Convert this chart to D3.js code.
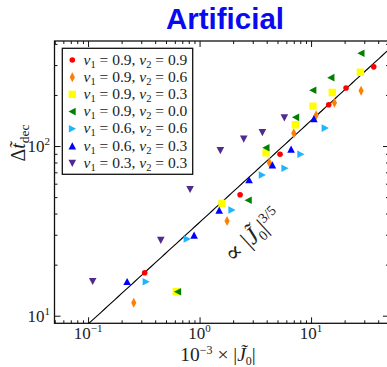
<!DOCTYPE html>
<html><head><meta charset="utf-8">
<script src="https://cdn.jsdelivr.net/npm/d3@7"></script>
<style>body{margin:0;background:#fff}</style>
</head><body>
<script>
// ---------- data ----------
const seriesV1 = ["0.9","0.9","0.9","0.9","0.6","0.6","0.3"];
const seriesV2 = ["0.9","0.6","0.3","0.0","0.6","0.3","0.3"];
const seriesColors = ["#ff0000","#ff8000","#ffff00","#008000","#1eb4ff","#0000ff","#512a8f"];
const seriesShapes = ["circle","diamond","square","left","right","up","down"];

const redJ    = [36.5, 20.6, 14.4, 5.27, 2.31, 0.322];
const redT    = [293, 220, 175, 89.4, 51.6, 17.9];
const orangeJ = [28.1, 16.2, 11.1, 7.0, 4.23, 1.765, 0.257];
const orangeT = [212, 180, 152, 118.8, 79.7, 36.1, 11.93];
const yellowJ = [27.7, 15.5, 10.4, 7.23, 3.95, 1.59, 0.619];
const yellowT = [272, 207, 172, 133.5, 91.3, 45.9, 13.85];
const greenJ  = [28.1, 15.1, 10.4, 7.29, 3.95, 2.74, 0.637];
const greenT  = [352, 253, 213, 147.6, 97.7, 47.9, 13.85];
const cyanJ   = [13.35, 8.08, 5.81, 3.64, 1.945, 0.772, 0.331];
const cyanT   = [127.6, 89.4, 73.9, 67.5, 42.0, 28.3, 15.86];
const blueJ   = [10.6, 6.62, 4.50, 2.78, 1.50, 0.893, 0.224];
const blueT   = [144.8, 95.6, 77.3, 63.1, 41.8, 29.8, 15.86];
const purpleJ = [5.76, 3.66, 2.49, 1.536, 0.822, 0.449, 0.110];
const purpleT = [146.8, 120.4, 110, 94.3, 55.6, 27.9, 15.95];

const xMajorTicks = [0.1, 1, 10];
const xMajorExp = ["\u22121", "0", "1"];
const yMajorTicks = [10, 100];
const yMajorExp = ["1", "2"];
const fitCoef = 35.5, fitExp = 0.6;
const fitJRange = [0.05, 50];

const allJ = [redJ, orangeJ, yellowJ, greenJ, cyanJ, blueJ, purpleJ];
const allT = [redT, orangeT, yellowT, greenT, cyanT, blueT, purpleT];

// ---------- layout ----------
const W = 387, H = 367;
const L = 54.5, R = 389, T = 41, B = 323.3;
const x = d3.scaleLog().domain([0.05, 50]).range([L, R]);
const y = d3.scaleLog().domain([9.02, 416]).range([B, T]);
const SERIF = "'Liberation Serif', 'DejaVu Serif', serif";

const svg = d3.select("body").append("svg").attr("width", W).attr("height", H)
  .style("display","block");
svg.append("rect").attr("width", W).attr("height", H).attr("fill", "#fff");

svg.append("defs").append("clipPath").attr("id","clip")
  .append("rect").attr("x",L).attr("y",T).attr("width",R-L).attr("height",B-T);

function rich(sel, parts, size) {
  parts.forEach(p => {
    const ts = sel.append("tspan").text(p.t)
      .attr("font-size", p.size || size)
      .attr("font-style", p.it ? "italic" : "normal");
    if (p.dy) ts.attr("dy", p.dy);
    if (p.dx) ts.attr("dx", p.dx);
  });
}

// ---------- title ----------
svg.append("text").attr("x", 225).attr("y", 29).attr("text-anchor","middle")
  .attr("font-family","'Liberation Sans', Arial, sans-serif").attr("font-weight","bold")
  .attr("font-size", 29.5).attr("fill","#0a0af0").text("Artificial");

// ---------- fit line ----------
const lineData = d3.range(0, 101).map(i => {
  const j = Math.pow(10, Math.log10(fitJRange[0]) + i/100*(Math.log10(fitJRange[1])-Math.log10(fitJRange[0])));
  return [j, fitCoef*Math.pow(j, fitExp)];
});
svg.append("path").attr("clip-path","url(#clip)")
  .attr("d", d3.line().x(d=>x(d[0])).y(d=>y(d[1]))(lineData))
  .attr("fill","none").attr("stroke","#000").attr("stroke-width",1.1);

// ---------- markers ----------
function shapePath(s) {
  switch (s) {
    case "circle": return d3.symbol().type(d3.symbolCircle).size(Math.PI*2.8*2.8)();
    case "square": return "M-3.7,-3.7H3.7V3.7H-3.7Z";
    case "diamond": return "M0,-5L2.6,0L0,5L-2.6,0Z";
    case "up": return "M0,-3.8L3.8,3.4L-3.8,3.4Z";
    case "down": return "M0,3.8L3.8,-3.4L-3.8,-3.4Z";
    case "left": return "M-3.8,0L3.4,-3.8L3.4,3.8Z";
    case "right": return "M3.8,0L-3.4,-3.8L-3.4,3.8Z";
  }
}
const gPts = svg.append("g").attr("clip-path","url(#clip)");
allJ.forEach((js, si) => {
  const pts = js.map((j,i) => [j, allT[si][i]]);
  gPts.append("g").selectAll("path").data(pts).join("path")
    .attr("d", shapePath(seriesShapes[si]))
    .attr("transform", d => `translate(${x(d[0])},${y(d[1])})`)
    .attr("fill", seriesColors[si]);
});

// ---------- axes ----------
function minorList(lo, hi) {
  const out = [];
  for (let e = -3; e <= 3; e++) for (let m = 2; m <= 9; m++) {
    const v = m*Math.pow(10,e); if (v >= lo && v <= hi) out.push(v);
  }
  return out;
}
const xMinor = minorList(0.05, 50).concat([0.05]);
const yMinor = minorList(9.1, 416);

function styleAxis(g) {
  g.select(".domain").remove();
  g.selectAll("line").attr("stroke","#111").attr("stroke-width",1);
  g.selectAll("text").remove();
}
svg.append("g").attr("transform",`translate(0,${B})`)
  .call(d3.axisBottom(x).tickValues(xMinor).tickSize(-3).tickFormat("")).call(styleAxis);
svg.append("g").attr("transform",`translate(0,${B})`)
  .call(d3.axisBottom(x).tickValues(xMajorTicks).tickSize(-6).tickFormat("")).call(styleAxis);
svg.append("g").attr("transform",`translate(0,${T})`)
  .call(d3.axisTop(x).tickValues(xMinor).tickSize(-3).tickFormat("")).call(styleAxis);
svg.append("g").attr("transform",`translate(0,${T})`)
  .call(d3.axisTop(x).tickValues(xMajorTicks).tickSize(-6).tickFormat("")).call(styleAxis);
svg.append("g").attr("transform",`translate(${L},0)`)
  .call(d3.axisLeft(y).tickValues(yMinor).tickSize(-3).tickFormat("")).call(styleAxis);
svg.append("g").attr("transform",`translate(${L},0)`)
  .call(d3.axisLeft(y).tickValues(yMajorTicks).tickSize(-6).tickFormat("")).call(styleAxis);
svg.append("g").attr("transform",`translate(${R},0)`)
  .call(d3.axisRight(y).tickValues(yMinor).tickSize(-3).tickFormat("")).call(styleAxis);
svg.append("g").attr("transform",`translate(${R},0)`)
  .call(d3.axisRight(y).tickValues(yMajorTicks).tickSize(-6).tickFormat("")).call(styleAxis);

svg.append("rect").attr("x",L).attr("y",T).attr("width",R-L).attr("height",B-T)
  .attr("fill","none").attr("stroke","#111").attr("stroke-width",1.3);

// tick labels
xMajorTicks.forEach((v,i) => {
  const t = svg.append("text").attr("x", x(v)).attr("y", 339).attr("text-anchor","middle")
    .attr("font-family", SERIF).attr("fill","#222");
  rich(t, [{t:"10"}, {t:xMajorExp[i], size:11, dy:-7}], 17);
});
yMajorTicks.forEach((v,i) => {
  const t = svg.append("text").attr("x", 50).attr("y", y(v)+6).attr("text-anchor","end")
    .attr("font-family", SERIF).attr("fill","#222");
  rich(t, [{t:"10"}, {t:yMajorExp[i], size:11, dy:-7}], 17);
});

// axis titles
const xl = svg.append("text").attr("x", 218).attr("y", 361).attr("text-anchor","middle")
  .attr("font-family", SERIF).attr("fill","#222");
rich(xl, [{t:"10"}, {t:"\u22123", size:12, dy:-7}, {t:" \u00d7 |", dy:7}, {t:"J\u0303", it:true},
          {t:"0", size:12, dy:4}, {t:"|", dy:-4}], 19.5);

const yl = svg.append("text").attr("transform","translate(25,143) rotate(-90)")
  .attr("text-anchor","middle").attr("font-family", SERIF).attr("fill","#222");
rich(yl, [{t:"\u0394"}, {t:"t\u0303", it:true}, {t:"dec", size:13.5, dy:4}], 20);

// fit label
const fl = svg.append("text").attr("transform","translate(258,241) rotate(-42.4)")
  .attr("text-anchor","middle").attr("font-family", SERIF).attr("fill","#222");
rich(fl, [{t:"\u221d |"}, {t:"J\u0303", it:true}, {t:"0", size:14, dy:4}, {t:"|", dy:-4},
          {t:"3/5", size:14, dy:-9}], 24);

// ---------- legend ----------
const lg = svg.append("g");
lg.append("rect").attr("x",62.3).attr("y",48.3).attr("width",130.4).attr("height",126)
  .attr("fill","#fff").attr("stroke","#111").attr("stroke-width",1.3);
seriesV1.forEach((v1,i) => {
  const yy = 60 + i*17.2;
  lg.append("path").attr("d", shapePath(seriesShapes[i]))
    .attr("transform",`translate(72.3,${yy})`).attr("fill", seriesColors[i]);
  const t = lg.append("text").attr("x", 83.5).attr("y", yy+4.5)
    .attr("font-family", SERIF).attr("fill","#222");
  rich(t, [{t:"v", it:true}, {t:"1", size:10.5, dy:3}, {t:" = "+v1+", ", dy:-3},
           {t:"v", it:true}, {t:"2", size:10.5, dy:3}, {t:" = "+seriesV2[i], dy:-3}], 15.5);
});
</script>
</body></html>
